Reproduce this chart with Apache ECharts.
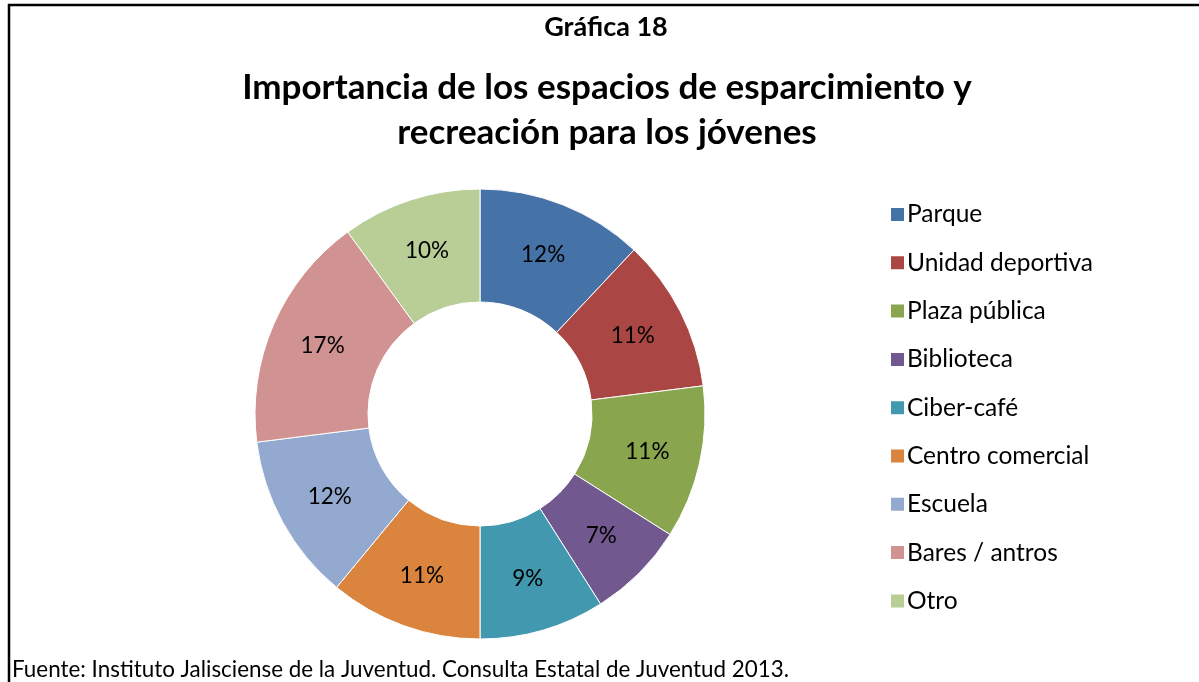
<!DOCTYPE html>
<html>
<head>
<meta charset="utf-8">
<script src="https://cdn.jsdelivr.net/npm/echarts@6/dist/echarts.min.js"></script>
<style>
html,body{margin:0;padding:0;background:#fff;}
#main{width:1199px;height:682px;}
</style>
</head>
<body>
<div id="main"></div>
<script>
var categorias = ['Parque', 'Unidad deportiva', 'Plaza pública', 'Biblioteca', 'Ciber-café', 'Centro comercial', 'Escuela', 'Bares / antros', 'Otro'];
var porcentajes = [12, 11, 11, 7, 9, 11, 12, 17, 10];
var colores = ['#4572A7', '#AA4643', '#89A54E', '#71588F', '#4198AF', '#DB843D', '#93A9CF', '#D19392', '#B9CD96'];
var fuente = 'Lato, "Liberation Sans", sans-serif';

var piedata = categorias.map(function (name, i) {
	return { name: name, value: porcentajes[i], itemStyle: { color: colores[i] } };
});

var myChart = echarts.init(document.getElementById('main'));
var option = {
	backgroundColor: '#fff',
	animation: false,
	title: [
		{
			text: 'Gráfica 18',
			left: 601, top: 9, textAlign: 'center',
			textStyle: { fontFamily: fuente, fontSize: 27, fontWeight: 'bold', color: '#000' }
		},
		{
			text: 'Importancia de los espacios de esparcimiento y\nrecreación para los jóvenes',
			left: 602, top: 60, textAlign: 'center',
			textStyle: { fontFamily: fuente, fontSize: 35, fontWeight: 'bold', color: '#000', lineHeight: 45 }
		}
	],
	legend: {
		orient: 'vertical',
		left: 884, top: 197,
		itemWidth: 15, itemHeight: 15, itemGap: 23.3,
		icon: 'rect',
		data: categorias,
		textStyle: { fontFamily: fuente, fontSize: 24.5, color: '#000', lineHeight: 22, padding: [0, 0, 0, -3] }
	},
	graphic: [
		{
			type: 'rect',
			shape: { x: 9, y: 5, width: 1220, height: 720 },
			style: { fill: 'none', stroke: '#000', lineWidth: 2.5 },
			silent: true
		},
		{
			type: 'text',
			left: 12, top: 659,
			style: { text: 'Fuente: Instituto Jalisciense de la Juventud. Consulta Estatal de Juventud 2013.', font: '22.4px ' + fuente, fill: '#000' }
		}
	],
	/*配置pie*/
	series: [
		{
			name: 'Importancia',
			type: 'pie',
			center: [480, 414],
			radius: [112, 225],
			startAngle: 90,
			clockwise: true,
			avoidLabelOverlap: false,
			data: piedata,
			itemStyle: { borderColor: '#fff', borderWidth: 1 },
			label: {
				show: true,
				position: 'inside',
				formatter: '{c}%',
				fontFamily: fuente, fontSize: 22.5, color: '#000'
			},
			labelLine: { show: false },
			emphasis: { disabled: true }
		}
	]
};
myChart.setOption(option);
</script>
</body>
</html>
